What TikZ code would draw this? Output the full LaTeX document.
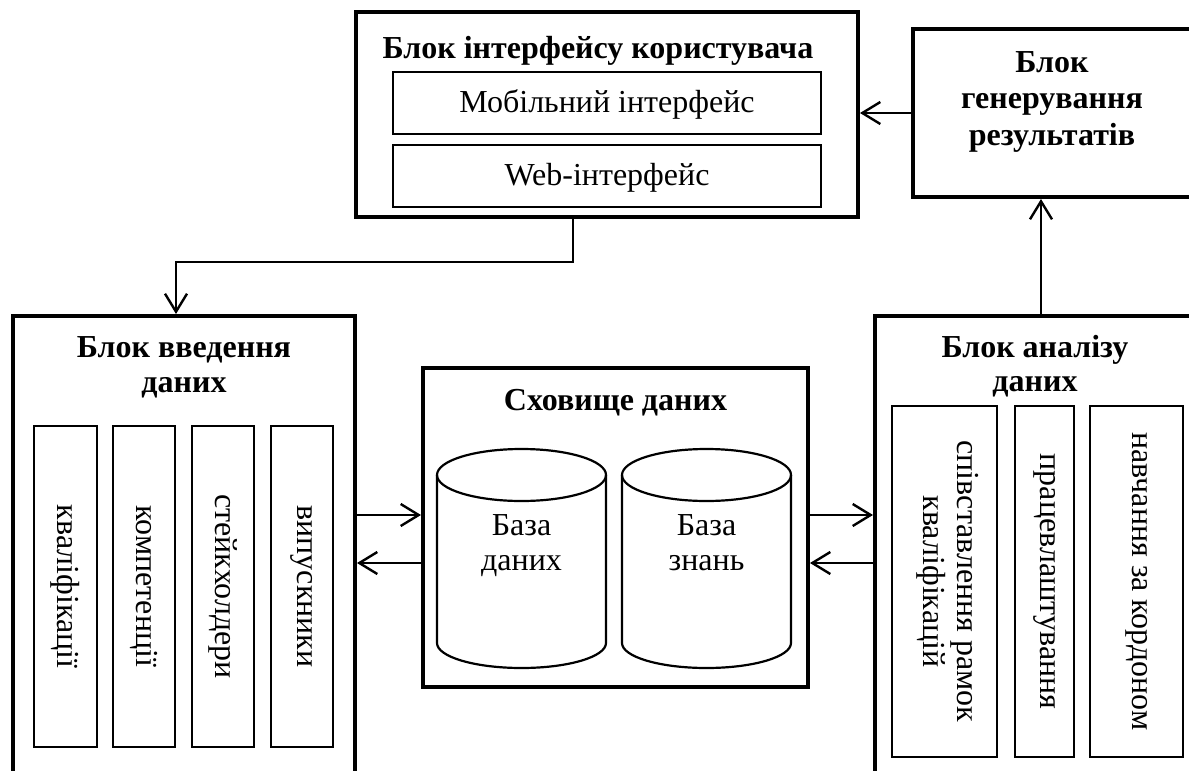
\documentclass[tikz,border=0pt]{standalone}
\usepackage{fontspec}
\setmainfont{Liberation Serif}
\usetikzlibrary{arrows.meta}
\begin{document}
\begin{tikzpicture}[x=0.5pt,y=-0.5pt,
  thickbox/.style={draw, line width=2pt, inner sep=0pt},
  thinbox/.style={draw, line width=1.1pt, inner sep=0pt},
  colbox/.style={draw, line width=1.4pt, inner sep=0pt},
  title/.style={font=\fontsize{16}{18}\selectfont\bfseries, inner sep=0pt, anchor=base},
  txt/.style={font=\fontsize{16}{18}\selectfont, inner sep=0pt, anchor=base},
  vtxt/.style={font=\fontsize{16}{17}\selectfont, inner sep=0pt, rotate=-90, align=center},
  arr/.style={-{Straight Barb[length=9pt,width=11pt]}, line width=1.2pt},
  cyl/.style={line width=1.1pt}]
\useasboundingbox (0,0) rectangle (1189,771);
\clip (0,0) rectangle (1189,771);

% user interface block
\node[thickbox, minimum width=251pt, minimum height=102.5pt] (ui) at (607,114.5) {};
\node[title] (uiT) at (598,58) {Блок інтерфейсу користувача};
\node[thinbox, minimum width=214pt, minimum height=31pt] (mob) at (607,103) {};
\node[txt] (mobT) at (607,112) {Мобільний інтерфейс};
\node[thinbox, minimum width=214pt, minimum height=31pt] (web) at (607,176) {};
\node[txt] (webT) at (607,185) {Web-інтерфейс};

% results generation block
\node[thickbox, minimum width=139pt, minimum height=84pt] (gen) at (1052,113) {};
\node[title] (gen1) at (1052,72) {Блок};
\node[title] (gen2) at (1052,108) {генерування};
\node[title] (gen3) at (1052,145) {результатів};

% data input block
\node[thickbox, minimum width=171pt, minimum height=237pt] (inp) at (184,553) {};
\node[title] (inp1) at (184,357) {Блок введення};
\node[title] (inp2) at (184,392) {даних};
\node[colbox, minimum width=31.5pt, minimum height=160.5pt] (q1) at (65.5,586.5) {};
\node[vtxt] (q1t) at (q1) {кваліфікації};
\node[colbox, minimum width=31pt, minimum height=160.5pt] (q2) at (144,586.5) {};
\node[vtxt] (q2t) at (q2) {компетенції};
\node[colbox, minimum width=31pt, minimum height=160.5pt] (q3) at (223,586.5) {};
\node[vtxt] (q3t) at (q3) {стейкхолдери};
\node[colbox, minimum width=31pt, minimum height=160.5pt] (q4) at (302,586.5) {};
\node[vtxt] (q4t) at (q4) {випускники};

% data store
\node[thickbox, minimum width=192.5pt, minimum height=159.5pt] (store) at (615.5,527.5) {};
\node[title] (storeT) at (615.5,410) {Сховище даних};
\draw[cyl] (437,475) -- (437,643) arc[start angle=180,end angle=360,x radius=42.25pt,y radius=12.5pt] -- (606,475);
\draw[cyl] (521.5,475) ellipse[x radius=42.25pt,y radius=13pt];
\draw[cyl] (622,475) -- (622,643) arc[start angle=180,end angle=360,x radius=42.25pt,y radius=12.5pt] -- (791,475);
\draw[cyl] (706.5,475) ellipse[x radius=42.25pt,y radius=13pt];
\node[txt] (db1) at (521.5,535) {База};
\node[txt] (db2) at (521.5,570) {даних};
\node[txt] (kb1) at (706.5,535) {База};
\node[txt] (kb2) at (706.5,570) {знань};

% analysis block
\node[thickbox, minimum width=160pt, minimum height=237pt] (anl) at (1035,553) {};
\node[title] (anl1) at (1035,357) {Блок аналізу};
\node[title] (anl2) at (1035,391) {даних};
\node[thinbox, minimum width=52.5pt, minimum height=175.5pt] (a1) at (944.5,581.5) {};
\node[vtxt] (a1t) at (947.5,581.5) {співставлення рамок\\кваліфікацій};
\node[thinbox, minimum width=29.5pt, minimum height=175.5pt] (a2) at (1044.5,581.5) {};
\node[vtxt] (a2t) at (a2) {працевлаштування};
\node[thinbox, minimum width=46.5pt, minimum height=175.5pt] (a3) at (1136.5,581.5) {};
\node[vtxt] (a3t) at (a3) {навчання за кордоном};

% connectors
\draw[arr] (gen.west) -- (gen.west -| ui.east);
\draw[arr] ([xshift=-17pt]ui.south) -- ++(0,43) -| ([xshift=-4pt]inp.north);
\coordinate (up0) at ([xshift=3pt]anl.north);
\draw[arr] (up0) -- (up0 |- gen.south);
\coordinate (sw1) at ([yshift=6.25pt]store.west);
\coordinate (sw2) at ([yshift=-17.75pt]store.west);
\coordinate (se1) at ([yshift=6.25pt]store.east);
\coordinate (se2) at ([yshift=-17.75pt]store.east);
\draw[arr] (sw1 -| inp.east) -- (sw1);
\draw[arr] (sw2) -- (sw2 -| inp.east);
\draw[arr] (se1) -- (se1 -| anl.west);
\draw[arr] (se2 -| anl.west) -- (se2);
\end{tikzpicture}
\end{document}
